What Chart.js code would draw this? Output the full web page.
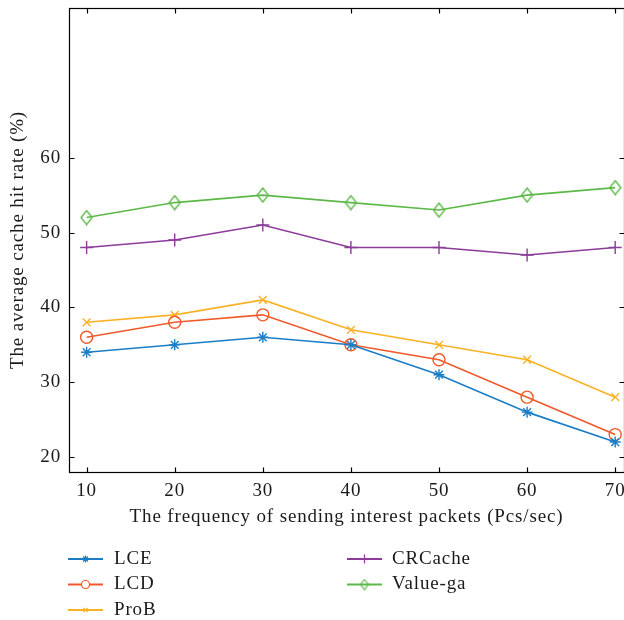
<!DOCTYPE html>
<html><head><meta charset="utf-8">
<script src="https://cdn.jsdelivr.net/npm/chart.js@4.4.1/dist/chart.umd.min.js"></script>
<style>html,body{margin:0;padding:0;background:#fff;}#wrap{width:624px;height:620px;}</style>
</head><body><div id="wrap"><canvas id="c" width="624" height="620"></canvas></div>
<script>
const xValues = [10, 20, 30, 40, 50, 60, 70];
const xTicks = [10, 20, 30, 40, 50, 60, 70];
const yTicks = [20, 30, 40, 50, 60];
const seriesNames = ['LCE', 'LCD', 'ProB', 'CRCache', 'Value-ga'];
const lce = [34, 35, 36, 35, 31, 26, 22];
const lcd = [36, 38, 39, 35, 33, 28, 23];
const prob = [38, 39, 41, 37, 35, 33, 28];
const crcache = [48, 49, 51, 48, 48, 47, 48];
const valuega = [52, 54, 55, 54, 53, 55, 56];
const xTitle = 'The frequency of sending interest packets (Pcs/sec)';
const yTitle = 'The average cache hit rate (%)';

const FONT = '"Liberation Serif", "DejaVu Serif", serif';
const LETTER_SPACING = '0.85px';
const colors = ['#1a7dc6', '#f05a2a', '#fbb124', '#8a3c98', '#5cb948'];

function makeDiamond(w, h, color, lw) {
  const c = document.createElement('canvas');
  c.width = w + 2; c.height = h + 2;
  const g = c.getContext('2d');
  g.strokeStyle = color; g.lineWidth = lw;
  const cx = c.width / 2, cy = c.height / 2;
  g.beginPath();
  g.moveTo(cx, cy - h / 2); g.lineTo(cx + w / 2, cy); g.lineTo(cx, cy + h / 2); g.lineTo(cx - w / 2, cy); g.closePath();
  g.stroke();
  return c;
}
const diamondBig = makeDiamond(11, 14, colors[4], 1.4);
const diamondSmall = makeDiamond(8, 10, colors[4], 1.2);

const styles = [
  { pointStyle: 'star', radius: 5.5, legendStyle: 'star', legendRadius: 3.5 },
  { pointStyle: 'circle', radius: 6, legendStyle: 'circle', legendRadius: 4 },
  { pointStyle: 'crossRot', radius: 5.5, legendStyle: 'crossRot', legendRadius: 3 },
  { pointStyle: 'cross', radius: 6.5, legendStyle: 'cross', legendRadius: 4.5 },
  { pointStyle: diamondBig, radius: 6, legendStyle: diamondSmall, legendRadius: 4 }
];
const seriesData = [lce, lcd, prob, crcache, valuega];

const datasets = seriesNames.map((name, i) => ({
  label: name,
  data: xValues.map((x, j) => ({ x: x, y: seriesData[i][j] })),
  borderColor: colors[i],
  backgroundColor: 'rgba(0,0,0,0)',
  pointBorderColor: colors[i],
  pointBackgroundColor: 'rgba(0,0,0,0)',
  borderWidth: 1.6,
  pointBorderWidth: 1.4,
  pointStyle: styles[i].pointStyle,
  pointRadius: styles[i].radius,
  pointHoverRadius: styles[i].radius,
  tension: 0,
  fill: false,
  clip: false
}));

const spacingPlugin = {
  id: 'spacing',
  beforeUpdate(chart) { chart.ctx.letterSpacing = LETTER_SPACING; },
  beforeLayout(chart) { chart.ctx.letterSpacing = LETTER_SPACING; },
  beforeDraw(chart) { chart.ctx.letterSpacing = LETTER_SPACING; }
};

const framePlugin = {
  id: 'frame',
  afterDatasetsDraw(chart) {
    const { ctx, chartArea: a, scales } = chart;
    ctx.save();
    ctx.strokeStyle = '#000';
    ctx.lineWidth = 1.2;
    const L = Math.round(a.left) + 0.5, R = Math.round(a.right) + 0.5, T = Math.round(a.top) + 0.5, B = Math.round(a.bottom) + 0.5;
    ctx.strokeRect(L, T, R - L, B - T);
    const tl = 5;
    ctx.beginPath();
    xTicks.forEach(v => {
      const px = Math.round(scales.x.getPixelForValue(v)) + 0.5;
      ctx.moveTo(px, B); ctx.lineTo(px, B - tl);
      ctx.moveTo(px, T); ctx.lineTo(px, T + tl);
    });
    yTicks.forEach(v => {
      const py = Math.round(scales.y.getPixelForValue(v)) + 0.5;
      ctx.moveTo(L, py); ctx.lineTo(L + tl, py);
      ctx.moveTo(R, py); ctx.lineTo(R - tl, py);
    });
    ctx.stroke();
    ctx.restore();
  }
};

const legendPlugin = {
  id: 'customLegend',
  afterDraw(chart) {
    const { ctx } = chart;
    const cols = [{ x: 68, tx: 114 }, { x: 347, tx: 392 }];
    const rowsY = [559, 584.5, 610];
    const perCol = 3;
    ctx.save();
    chart.data.datasets.forEach((ds, i) => {
      const col = cols[Math.floor(i / perCol)];
      const y = rowsY[i % perCol];
      ctx.strokeStyle = ds.borderColor;
      ctx.lineWidth = 1.8;
      ctx.beginPath();
      ctx.moveTo(col.x, y); ctx.lineTo(col.x + 35, y);
      ctx.stroke();
      ctx.lineWidth = 1.2;
      ctx.fillStyle = '#fff';
      Chart.helpers.drawPoint(ctx, { pointStyle: styles[i].legendStyle, radius: styles[i].legendRadius, rotation: 0, borderWidth: 1.2 }, col.x + 17.5, y);
      ctx.fillStyle = '#1a1a1a';
      ctx.font = '19px ' + FONT;
      ctx.letterSpacing = LETTER_SPACING;
      ctx.textBaseline = 'middle';
      ctx.textAlign = 'left';
      ctx.fillText(ds.label, col.tx, y);
    });
    ctx.restore();
  }
};

function zeroPad(s) {
  s.paddingTop = 0; s.paddingBottom = 0; s.paddingLeft = 0; s.paddingRight = 0;
  if (s._margins) { s._margins.left = 0; s._margins.right = 0; s._margins.top = 0; s._margins.bottom = 0; }
}

new Chart(document.getElementById('c'), {
  type: 'line',
  data: { datasets },
  plugins: [spacingPlugin, framePlugin, legendPlugin],
  options: {
    responsive: false,
    animation: false,
    events: [],
    layout: { autoPadding: false, padding: { top: 8, right: 0, left: 0, bottom: 92 } },
    plugins: { legend: { display: false }, tooltip: { enabled: false } },
    scales: {
      x: {
        type: 'linear',
        min: 8, max: 71,
        afterBuildTicks: s => { s.ticks = xTicks.map(v => ({ value: v })); },
        afterFit: s => { s.height = 56; zeroPad(s); },
        grid: { display: false, drawTicks: false },
        border: { display: false },
        ticks: { color: '#1a1a1a', font: { family: FONT, size: 19 }, padding: 8, maxRotation: 0 },
        title: { display: true, text: xTitle, color: '#1a1a1a', font: { family: FONT, size: 19 }, padding: { top: 0, bottom: 0 } }
      },
      y: {
        type: 'linear',
        min: 18, max: 80,
        afterBuildTicks: s => { s.ticks = yTicks.map(v => ({ value: v })); },
        afterFit: s => { s.width = 69; zeroPad(s); },
        grid: { display: false, drawTicks: false },
        border: { display: false },
        ticks: { color: '#1a1a1a', font: { family: FONT, size: 19 }, padding: 8 },
        title: { display: true, text: yTitle, color: '#1a1a1a', font: { family: FONT, size: 19 }, padding: { top: 7, bottom: 0 } }
      }
    }
  }
});
</script>
</body></html>
